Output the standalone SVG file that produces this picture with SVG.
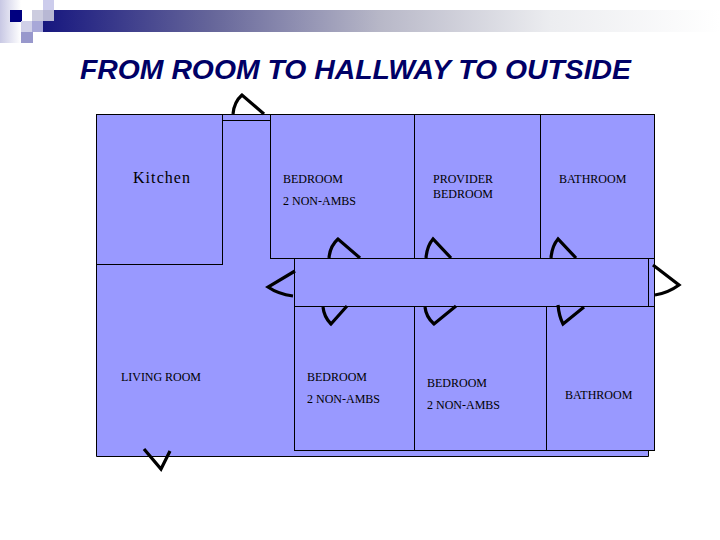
<svg xmlns="http://www.w3.org/2000/svg" width="720" height="540" viewBox="0 0 720 540">
<style>
.room{fill:#9999ff;stroke:#000;stroke-width:1}
.door{fill:none;stroke:#000;stroke-width:3.200;stroke-linejoin:miter}
.t{font-family:"Liberation Serif",serif;font-size:12px;fill:#000}
</style>
<defs>
<linearGradient id="bar" x1="0" x2="1" y1="0" y2="0">
<stop offset="0" stop-color="#17177f"/><stop offset="0.25" stop-color="#66669a"/><stop offset="0.5" stop-color="#b8b8c8"/><stop offset="0.75" stop-color="#ecedf0"/><stop offset="1" stop-color="#ffffff"/>
</linearGradient>
<linearGradient id="fade" x1="0" x2="1" y1="0" y2="0">
<stop offset="0" stop-color="#c8c8e4"/><stop offset="1" stop-color="#ffffff"/>
</linearGradient>
</defs>
<rect width="720" height="540" fill="#fff"/>
<g id="header">
<rect x="0" y="0" width="21" height="43" fill="url(#fade)"/>
<rect x="43" y="10" width="677" height="22" fill="url(#bar)"/>
<rect x="10" y="10" width="12" height="12" fill="#000080"/>
<rect x="32" y="10" width="11" height="11" fill="#ccccdf"/>
<rect x="43" y="0" width="11" height="10" fill="#ccccec"/>
<rect x="43" y="10" width="11" height="11" fill="#b8b8d4"/>
<rect x="21" y="21" width="11" height="11" fill="#d0d0e8"/>
<rect x="32" y="21" width="11" height="11" fill="#a8a8d8"/>
<rect x="21" y="32" width="12" height="11" fill="#9898cc"/>
</g>
<text id="title" x="80" y="79" font-family="'Liberation Sans',sans-serif" font-size="27" font-weight="bold" font-style="italic" fill="#000066" textLength="551" lengthAdjust="spacingAndGlyphs">FROM ROOM TO HALLWAY TO OUTSIDE</text>
<g id="living-room"><path class="room" d="M222.500 120.500H270.500V258.500H294.500V450.500H648.500V456.500H96.500V264.500H222.500Z"/><text class="t" x="121" y="381" textLength="80">LIVING ROOM</text></g>
<g id="kitchen"><rect class="room" x="96.500" y="114.500" width="126" height="150"/><text x="133" y="183" font-family="'Liberation Serif',serif" font-size="16" textLength="57">Kitchen</text></g>
<g id="hall-door"><rect class="room" x="222.500" y="114.500" width="48" height="6"/></g>
<g id="bedroom-1"><rect class="room" x="270.500" y="114.500" width="144" height="144"/><text class="t" x="283" y="183">BEDROOM</text><text class="t" x="283" y="205">2 NON-AMBS</text></g>
<g id="provider-bedroom"><rect class="room" x="414.500" y="114.500" width="126" height="144"/><text class="t" x="433" y="183">PROVIDER</text><text class="t" x="433" y="198">BEDROOM</text></g>
<g id="bathroom-1"><rect class="room" x="540.500" y="114.500" width="114" height="144"/><text class="t" x="559" y="183">BATHROOM</text></g>
<g id="bedroom-2"><rect class="room" x="294.500" y="306.500" width="120" height="144"/><text class="t" x="307" y="381">BEDROOM</text><text class="t" x="307" y="403">2 NON-AMBS</text></g>
<g id="bedroom-3"><rect class="room" x="414.500" y="306.500" width="132" height="144"/><text class="t" x="427" y="387">BEDROOM</text><text class="t" x="427" y="409">2 NON-AMBS</text></g>
<g id="bathroom-2"><rect class="room" x="546.500" y="306.500" width="108" height="144"/><text class="t" x="565" y="399">BATHROOM</text></g>
<g id="corridor"><rect class="room" x="294.500" y="258.500" width="354" height="48"/><rect class="room" x="648.500" y="258.500" width="6" height="48"/></g>
<g id="connectors">
<path class="door" d="M233 114Q234 102 242 95L264 114"/>
<path class="door" d="M329 258Q330 246 338 239L360 258"/>
<path class="door" d="M426 258Q427 246 433 239L451 258"/>
<path class="door" d="M551 258Q552 246 558 239L576 258"/>
<path class="door" d="M653 265L679 285Q668 293 655 295"/>
<path class="door" d="M295 271L268 287Q278 294 293 296"/>
<path class="door" d="M323 307Q324 317 331 324L347 306"/>
<path class="door" d="M425 307Q426 317 434 324L456 306"/>
<path class="door" d="M558 305Q559 316 563 324L584 307"/>
<path class="door" d="M144 449L161 469L170 451"/>
</g>
</svg>
